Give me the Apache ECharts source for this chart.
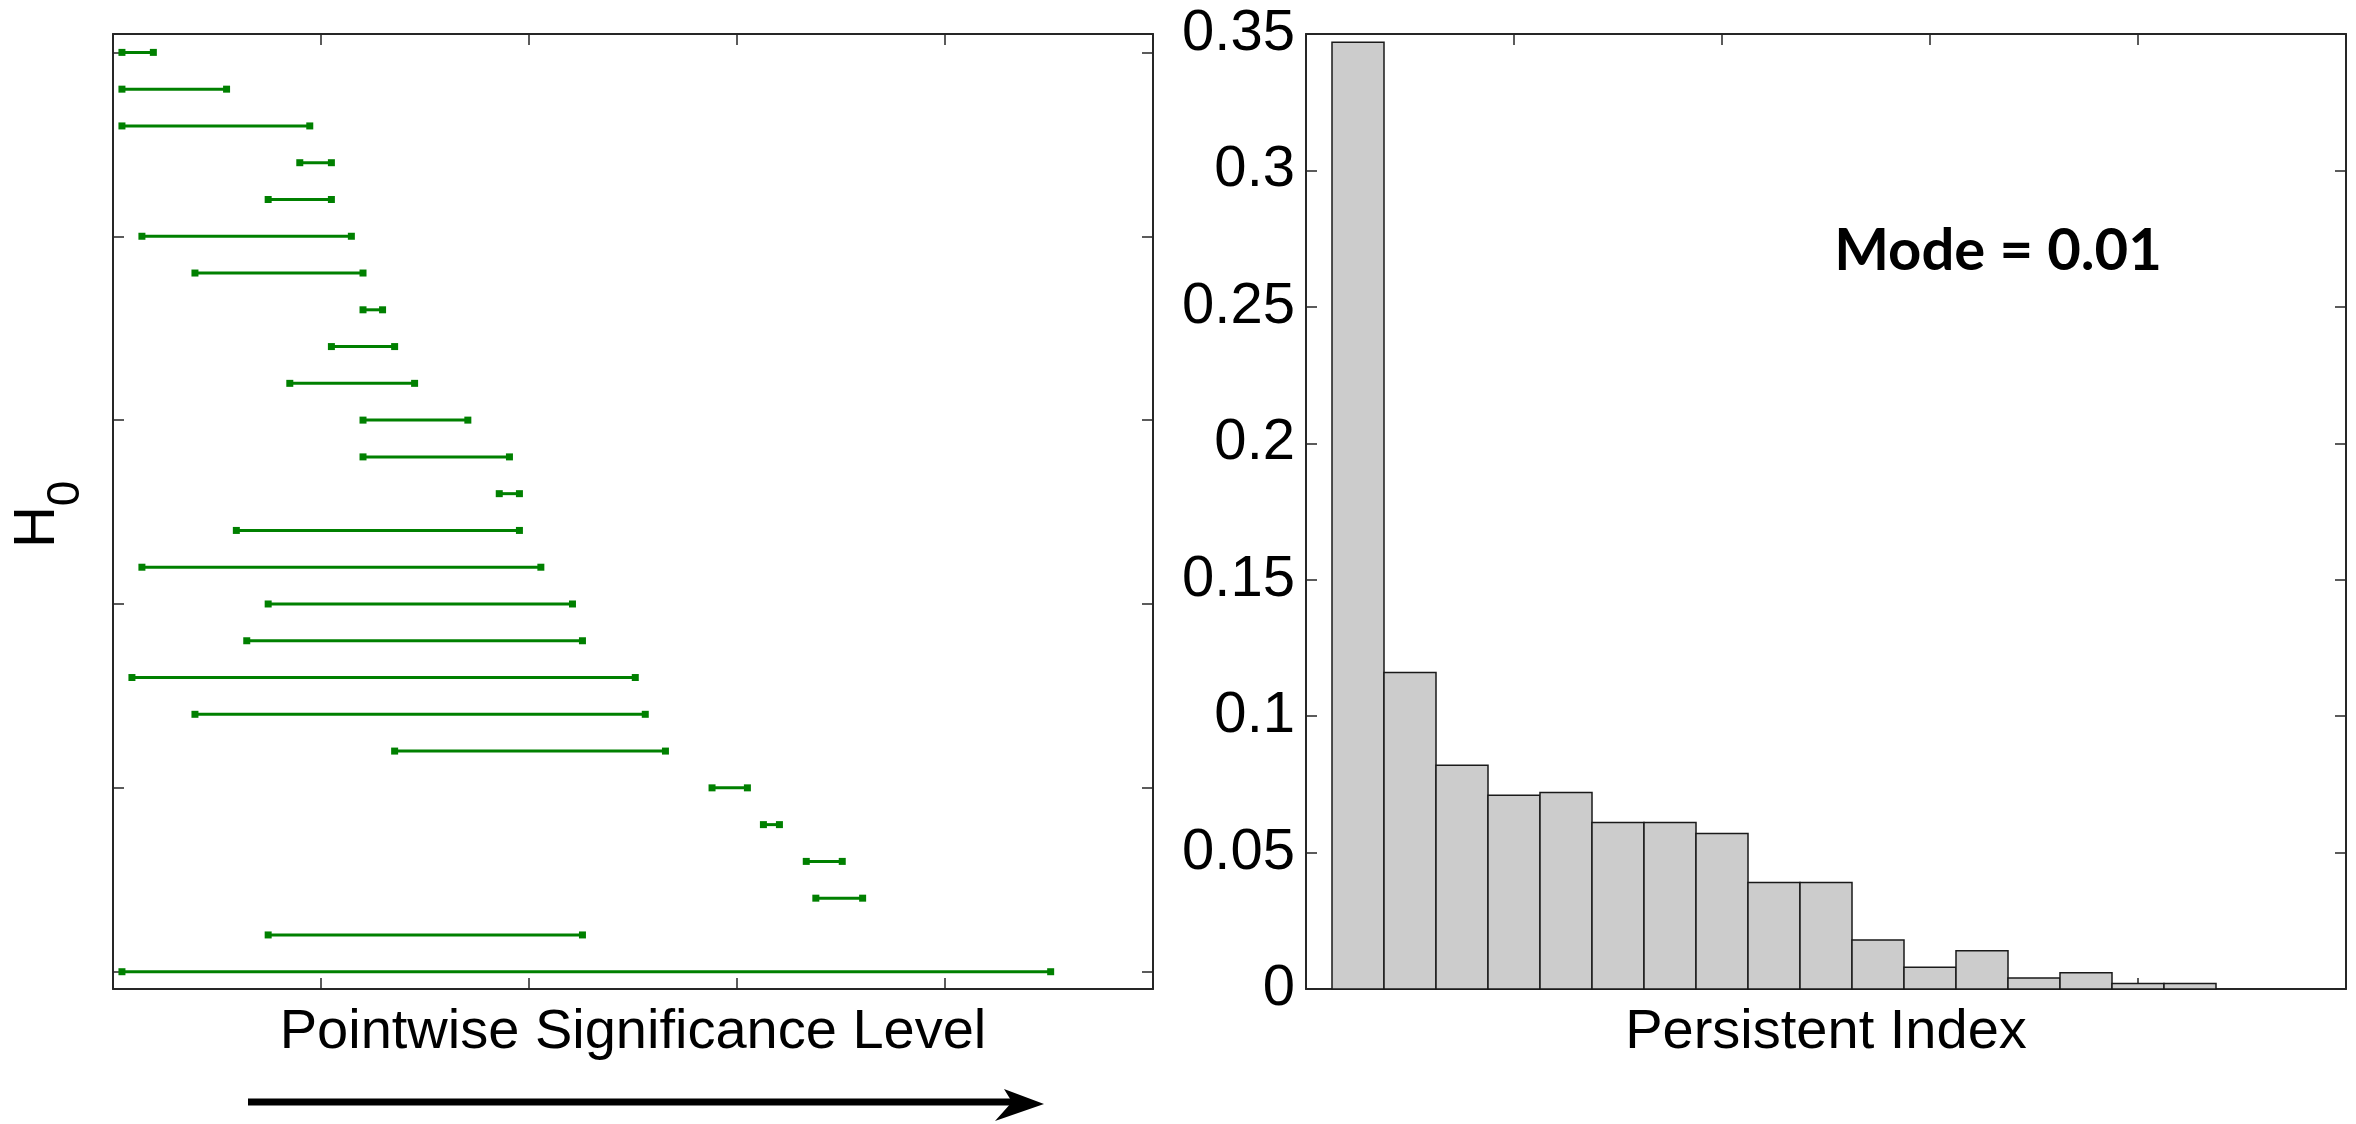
<!DOCTYPE html>
<html>
<head>
<meta charset="utf-8">
<script src="https://cdn.jsdelivr.net/npm/echarts@6/dist/echarts.min.js"></script>
<style>
html,body{margin:0;padding:0;background:#fff;}
#chart{width:2356px;height:1124px;}
</style>
</head>
<body>
<div id="chart"></div>
<script>
// ---- Left panel: H0 persistence intervals (top row first) ----
const segStart = [0.043, 0.043, 0.043, 0.898, 0.746, 0.139, 0.394, 1.202, 1.050, 0.850,
                  1.202, 1.202, 1.857, 0.593, 0.139, 0.746, 0.643, 0.091, 0.394, 1.354,
                  2.880, 3.127, 3.333, 3.379, 0.746, 0.043];
const segEnd   = [0.194, 0.546, 0.946, 1.050, 1.050, 1.146, 1.202, 1.296, 1.354, 1.450,
                  1.706, 1.906, 1.954, 1.954, 2.057, 2.209, 2.257, 2.511, 2.559, 2.656,
                  3.050, 3.204, 3.506, 3.604, 2.257, 4.508];
const leftYTicks = [0, 5, 10, 15, 20, 25];

// ---- Right panel: histogram of persistent index ----
const binCenters = [0.25, 0.5, 0.75, 1.0, 1.25, 1.5, 1.75, 2.0, 2.25, 2.5, 2.75, 3.0, 3.25, 3.5, 3.75, 4.0, 4.25];
const binWidth = 0.25;
const binFreq = [0.347, 0.116, 0.082, 0.071, 0.072, 0.061, 0.061, 0.057, 0.039, 0.039,
                 0.018, 0.008, 0.014, 0.004, 0.006, 0.002, 0.002];

const xAxisTitleLeft = 'Pointwise Significance Level';
const xAxisTitleRight = 'Persistent Index';
const modeText = 'Mode = 0.01';

// ---- build ----
const segData = segStart.map((s, i) => [s, segEnd[i], segStart.length - 1 - i]);
const barData = binCenters.map((c, i) => [c, binFreq[i]]);

const AX = '#262626';
const FONT = 'Liberation Sans';

function frameAxis(extra) {
  return Object.assign({
    type: 'value',
    axisLine: { show: true, onZero: false, lineStyle: { color: AX, width: 2 } },
    axisTick: { show: true, inside: true, length: 11, lineStyle: { color: AX, width: 1.5 } },
    axisLabel: { show: false },
    splitLine: { show: false }
  }, extra);
}

const chart = echarts.init(document.getElementById('chart'), null, { renderer: 'canvas' });

const option = {
  animation: false,
  backgroundColor: '#ffffff',
  textStyle: { fontFamily: FONT },
  grid: [
    { left: 113, top: 34, width: 1040, height: 955 },
    { left: 1306, top: 34, width: 1040, height: 955 }
  ],
  xAxis: [
    frameAxis({ gridIndex: 0, min: 0, max: 5, interval: 1, position: 'bottom',
      name: xAxisTitleLeft, nameLocation: 'middle', nameGap: 16,
      nameTextStyle: { fontSize: 56, color: '#000', fontFamily: FONT } }),
    frameAxis({ gridIndex: 0, min: 0, max: 5, interval: 1, position: 'top' }),
    frameAxis({ gridIndex: 1, min: 0, max: 5, interval: 1, position: 'bottom',
      name: xAxisTitleRight, nameLocation: 'middle', nameGap: 16,
      nameTextStyle: { fontSize: 56, color: '#000', fontFamily: FONT } }),
    frameAxis({ gridIndex: 1, min: 0, max: 5, interval: 1, position: 'top' })
  ],
  yAxis: [
    frameAxis({ gridIndex: 0, min: -0.47, max: 25.5, position: 'left',
      axisTick: { show: true, inside: true, length: 11, customValues: leftYTicks, lineStyle: { color: AX, width: 1.5 } } }),
    frameAxis({ gridIndex: 0, min: -0.47, max: 25.5, position: 'right',
      axisTick: { show: true, inside: true, length: 11, customValues: leftYTicks, lineStyle: { color: AX, width: 1.5 } } }),
    frameAxis({ gridIndex: 1, min: 0, max: 0.35, interval: 0.05, position: 'left',
      axisLabel: { show: true, fontSize: 58, color: '#000', margin: 11, fontFamily: FONT } }),
    frameAxis({ gridIndex: 1, min: 0, max: 0.35, interval: 0.05, position: 'right' })
  ],
  series: [
    {
      type: 'custom',
      xAxisIndex: 0, yAxisIndex: 0,
      data: segData,
      encode: { x: [0, 1], y: 2 },
      renderItem: function (params, api) {
        const a = api.coord([api.value(0), api.value(2)]);
        const b = api.coord([api.value(1), api.value(2)]);
        const s = 7;
        const col = '#008000';
        return {
          type: 'group',
          children: [
            { type: 'line', shape: { x1: a[0], y1: a[1], x2: b[0], y2: b[1] }, style: { stroke: col, lineWidth: 3 } },
            { type: 'rect', shape: { x: a[0] - s / 2, y: a[1] - s / 2, width: s, height: s }, style: { fill: col } },
            { type: 'rect', shape: { x: b[0] - s / 2, y: b[1] - s / 2, width: s, height: s }, style: { fill: col } }
          ]
        };
      }
    },
    {
      type: 'custom',
      xAxisIndex: 2, yAxisIndex: 2,
      data: barData,
      encode: { x: 0, y: 1 },
      renderItem: function (params, api) {
        const c = api.value(0);
        const tl = api.coord([c - binWidth / 2, api.value(1)]);
        const br = api.coord([c + binWidth / 2, 0]);
        return {
          type: 'rect',
          shape: { x: tl[0], y: tl[1], width: br[0] - tl[0], height: br[1] - tl[1] },
          style: { fill: '#cccccc', stroke: '#1a1a1a', lineWidth: 1.5 }
        };
      }
    }
  ],
  graphic: [
    { type: 'text', x: 37.5, y: 527, rotation: Math.PI / 2,
      style: { text: 'H', font: '58px "Liberation Sans"', fill: '#000', textAlign: 'center', textVerticalAlign: 'middle' } },
    { type: 'text', x: 66.5, y: 493.5, rotation: Math.PI / 2,
      style: { text: '0', font: '46px "Liberation Sans"', fill: '#000', textAlign: 'center', textVerticalAlign: 'middle' } },
    { type: 'text', x: 1998, y: 251,
      style: { text: modeText, font: 'bold 58px Lato', fill: '#000', textAlign: 'center', textVerticalAlign: 'middle' } },
    { type: 'line', shape: { x1: 248, y1: 1102, x2: 1012, y2: 1102 }, style: { stroke: '#000', lineWidth: 7 } },
    { type: 'polygon', shape: { points: [[1044, 1104], [1004, 1089], [1012, 1102], [995, 1121]] }, style: { fill: '#000' } }
  ]
};

chart.setOption(option);
</script>
</body>
</html>
